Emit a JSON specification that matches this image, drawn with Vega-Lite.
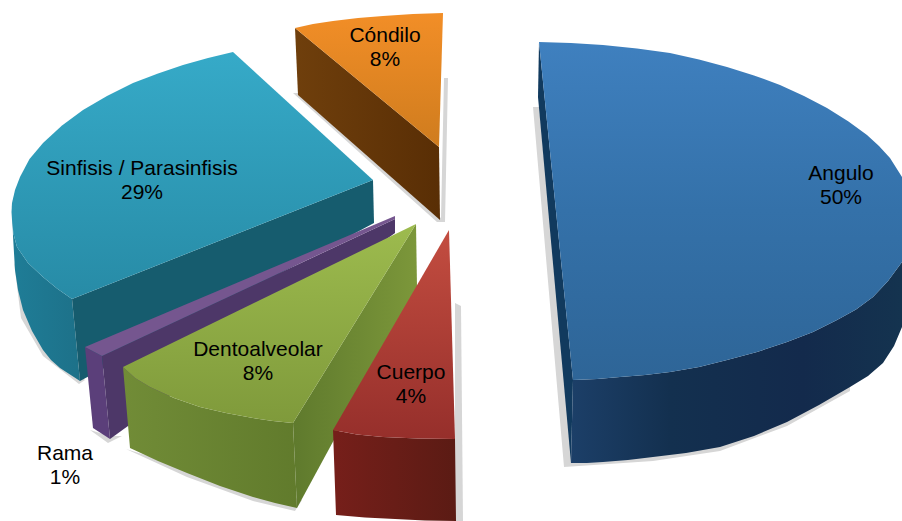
{
  "$schema": "https://vega.github.io/schema/vega-lite/v6.json",
  "width": 902,
  "height": 521,
  "padding": 0,
  "autosize": {"type": "fit", "contains": "padding"},
  "background": "white",
  "view": {"stroke": null},
  "datasets": {
    "faces": [
      {"face":"shadow-blue","p":0,"x":533,"y":107},{"face":"shadow-blue","p":1,"x":539,"y":107},{"face":"shadow-blue","p":2,"x":573,"y":460},{"face":"shadow-blue","p":3,"x":653,"y":455},{"face":"shadow-blue","p":4,"x":720,"y":445},{"face":"shadow-blue","p":5,"x":787,"y":420},{"face":"shadow-blue","p":6,"x":850,"y":385},{"face":"shadow-blue","p":7,"x":850,"y":391},{"face":"shadow-blue","p":8,"x":787,"y":426},{"face":"shadow-blue","p":9,"x":720,"y":451},{"face":"shadow-blue","p":10,"x":653,"y":461},{"face":"shadow-blue","p":11,"x":564,"y":467},
      {"face":"shadow-orange","p":0,"x":293,"y":93},{"face":"shadow-orange","p":1,"x":298,"y":93},{"face":"shadow-orange","p":2,"x":441,"y":218},{"face":"shadow-orange","p":3,"x":444,"y":78},{"face":"shadow-orange","p":4,"x":448,"y":78},{"face":"shadow-orange","p":5,"x":445,"y":222},{"face":"shadow-orange","p":6,"x":437,"y":222},
      {"face":"shadow-teal","p":0,"x":14,"y":262},{"face":"shadow-teal","p":1,"x":21,"y":318},{"face":"shadow-teal","p":2,"x":43,"y":356},{"face":"shadow-teal","p":3,"x":79,"y":384},{"face":"shadow-teal","p":4,"x":85,"y":380},{"face":"shadow-teal","p":5,"x":45,"y":345},
      {"face":"shadow-purple","p":0,"x":90,"y":430},{"face":"shadow-purple","p":1,"x":108,"y":443},{"face":"shadow-purple","p":2,"x":122,"y":436},{"face":"shadow-purple","p":3,"x":110,"y":436},
      {"face":"shadow-green","p":0,"x":126,"y":449},{"face":"shadow-green","p":1,"x":187,"y":477},{"face":"shadow-green","p":2,"x":253,"y":501},{"face":"shadow-green","p":3,"x":295,"y":511},{"face":"shadow-green","p":4,"x":302,"y":500},{"face":"shadow-green","p":5,"x":187,"y":468},
      {"face":"shadow-red","p":0,"x":455,"y":303},{"face":"shadow-red","p":1,"x":461,"y":306},{"face":"shadow-red","p":2,"x":463,"y":521},{"face":"shadow-red","p":3,"x":455,"y":521},

      {"face":"teal-outer","p":0,"x":12,"y":203},{"face":"teal-outer","p":1,"x":13.5,"y":234},{"face":"teal-outer","p":2,"x":17,"y":247},{"face":"teal-outer","p":3,"x":28,"y":263},{"face":"teal-outer","p":4,"x":43,"y":277},{"face":"teal-outer","p":5,"x":57,"y":288.5},{"face":"teal-outer","p":6,"x":72,"y":299},{"face":"teal-outer","p":7,"x":80,"y":381},{"face":"teal-outer","p":8,"x":60,"y":368},{"face":"teal-outer","p":9,"x":51,"y":360},{"face":"teal-outer","p":10,"x":43,"y":350},{"face":"teal-outer","p":11,"x":32,"y":331},{"face":"teal-outer","p":12,"x":23,"y":310},{"face":"teal-outer","p":13,"x":18,"y":290},{"face":"teal-outer","p":14,"x":15,"y":270},{"face":"teal-outer","p":15,"x":13,"y":236},
      {"face":"teal-inner","p":0,"x":72,"y":299},{"face":"teal-inner","p":1,"x":373,"y":180},{"face":"teal-inner","p":2,"x":374,"y":223},{"face":"teal-inner","p":3,"x":80,"y":381},
      {"face":"teal-top","p":0,"x":233,"y":52},{"face":"teal-top","p":1,"x":208,"y":58},{"face":"teal-top","p":2,"x":183,"y":65},{"face":"teal-top","p":3,"x":158,"y":73.5},{"face":"teal-top","p":4,"x":133,"y":83},{"face":"teal-top","p":5,"x":107,"y":96},{"face":"teal-top","p":6,"x":83,"y":110},{"face":"teal-top","p":7,"x":62,"y":125.5},{"face":"teal-top","p":8,"x":43,"y":143},{"face":"teal-top","p":9,"x":29.5,"y":159},{"face":"teal-top","p":10,"x":20,"y":177},{"face":"teal-top","p":11,"x":15,"y":190},{"face":"teal-top","p":12,"x":12,"y":203},{"face":"teal-top","p":13,"x":11.5,"y":212},{"face":"teal-top","p":14,"x":12,"y":220},{"face":"teal-top","p":15,"x":13.5,"y":234},{"face":"teal-top","p":16,"x":17,"y":247},{"face":"teal-top","p":17,"x":28,"y":263},{"face":"teal-top","p":18,"x":43,"y":277},{"face":"teal-top","p":19,"x":57,"y":288.5},{"face":"teal-top","p":20,"x":72,"y":299},{"face":"teal-top","p":21,"x":373,"y":180},

      {"face":"orange-side","p":0,"x":295,"y":28},{"face":"orange-side","p":1,"x":439,"y":147},{"face":"orange-side","p":2,"x":440,"y":220},{"face":"orange-side","p":3,"x":298,"y":95},
      {"face":"orange-top","p":0,"x":295,"y":28},{"face":"orange-top","p":1,"x":313,"y":24},{"face":"orange-top","p":2,"x":333,"y":21},{"face":"orange-top","p":3,"x":358,"y":18},{"face":"orange-top","p":4,"x":383,"y":16},{"face":"orange-top","p":5,"x":413,"y":14},{"face":"orange-top","p":6,"x":443,"y":13},{"face":"orange-top","p":7,"x":439,"y":147},

      {"face":"purple-left","p":0,"x":85,"y":347},{"face":"purple-left","p":1,"x":102,"y":356},{"face":"purple-left","p":2,"x":110,"y":439},{"face":"purple-left","p":3,"x":93,"y":428},
      {"face":"purple-inner","p":0,"x":102,"y":356},{"face":"purple-inner","p":1,"x":395,"y":219},{"face":"purple-inner","p":2,"x":395,"y":233},{"face":"purple-inner","p":3,"x":110,"y":439},
      {"face":"purple-top","p":0,"x":85,"y":347},{"face":"purple-top","p":1,"x":395,"y":216},{"face":"purple-top","p":2,"x":395,"y":219},{"face":"purple-top","p":3,"x":102,"y":356},

      {"face":"green-inner","p":0,"x":293,"y":423},{"face":"green-inner","p":1,"x":416,"y":224},{"face":"green-inner","p":2,"x":417,"y":287},{"face":"green-inner","p":3,"x":297,"y":508},
      {"face":"green-outer","p":0,"x":123,"y":367},{"face":"green-outer","p":1,"x":135,"y":378},{"face":"green-outer","p":2,"x":150,"y":387},{"face":"green-outer","p":3,"x":174,"y":398},{"face":"green-outer","p":4,"x":200,"y":407},{"face":"green-outer","p":5,"x":226,"y":413},{"face":"green-outer","p":6,"x":253,"y":418},{"face":"green-outer","p":7,"x":273,"y":421},{"face":"green-outer","p":8,"x":293,"y":423},{"face":"green-outer","p":9,"x":297,"y":508},{"face":"green-outer","p":10,"x":275,"y":503},{"face":"green-outer","p":11,"x":253,"y":497},{"face":"green-outer","p":12,"x":220,"y":486},{"face":"green-outer","p":13,"x":187,"y":473},{"face":"green-outer","p":14,"x":158,"y":461},{"face":"green-outer","p":15,"x":130,"y":448},
      {"face":"green-top","p":0,"x":416,"y":224},{"face":"green-top","p":1,"x":123,"y":367},{"face":"green-top","p":2,"x":135,"y":378},{"face":"green-top","p":3,"x":150,"y":387},{"face":"green-top","p":4,"x":174,"y":398},{"face":"green-top","p":5,"x":200,"y":407},{"face":"green-top","p":6,"x":226,"y":413},{"face":"green-top","p":7,"x":253,"y":418},{"face":"green-top","p":8,"x":273,"y":421},{"face":"green-top","p":9,"x":293,"y":423},

      {"face":"red-side","p":0,"x":333,"y":430},{"face":"red-side","p":1,"x":357,"y":434.5},{"face":"red-side","p":2,"x":383,"y":437},{"face":"red-side","p":3,"x":418,"y":438.5},{"face":"red-side","p":4,"x":455,"y":439},{"face":"red-side","p":5,"x":456,"y":521},{"face":"red-side","p":6,"x":425,"y":520.5},{"face":"red-side","p":7,"x":395,"y":519},{"face":"red-side","p":8,"x":365,"y":517.5},{"face":"red-side","p":9,"x":336,"y":515},
      {"face":"red-top","p":0,"x":449,"y":230},{"face":"red-top","p":1,"x":333,"y":430},{"face":"red-top","p":2,"x":357,"y":434.5},{"face":"red-top","p":3,"x":383,"y":437},{"face":"red-top","p":4,"x":418,"y":438.5},{"face":"red-top","p":5,"x":455,"y":439},

      {"face":"blue-left","p":0,"x":539,"y":42},{"face":"blue-left","p":1,"x":538,"y":97},{"face":"blue-left","p":2,"x":571,"y":463},{"face":"blue-left","p":3,"x":573,"y":380},
      {"face":"blue-front","p":0,"x":573,"y":380},{"face":"blue-front","p":1,"x":597,"y":379},{"face":"blue-front","p":2,"x":620,"y":377},{"face":"blue-front","p":3,"x":645,"y":375},{"face":"blue-front","p":4,"x":670,"y":372},{"face":"blue-front","p":5,"x":699,"y":367},{"face":"blue-front","p":6,"x":727,"y":360},{"face":"blue-front","p":7,"x":757,"y":352},{"face":"blue-front","p":8,"x":787,"y":342},{"face":"blue-front","p":9,"x":813,"y":332},{"face":"blue-front","p":10,"x":837,"y":320},{"face":"blue-front","p":11,"x":856,"y":309.5},{"face":"blue-front","p":12,"x":873,"y":297},{"face":"blue-front","p":13,"x":888,"y":281},{"face":"blue-front","p":14,"x":902,"y":262},{"face":"blue-front","p":15,"x":902,"y":327},{"face":"blue-front","p":16,"x":894,"y":346},{"face":"blue-front","p":17,"x":883,"y":363},{"face":"blue-front","p":18,"x":868,"y":376},{"face":"blue-front","p":19,"x":850,"y":387},{"face":"blue-front","p":20,"x":819,"y":405},{"face":"blue-front","p":21,"x":787,"y":422},{"face":"blue-front","p":22,"x":754,"y":436},{"face":"blue-front","p":23,"x":720,"y":447},{"face":"blue-front","p":24,"x":686,"y":453},{"face":"blue-front","p":25,"x":653,"y":457},{"face":"blue-front","p":26,"x":628,"y":460},{"face":"blue-front","p":27,"x":603,"y":462},{"face":"blue-front","p":28,"x":587,"y":463},{"face":"blue-front","p":29,"x":571,"y":463},
      {"face":"blue-top","p":0,"x":539,"y":42},{"face":"blue-top","p":1,"x":571,"y":43},{"face":"blue-top","p":2,"x":603,"y":45},{"face":"blue-top","p":3,"x":637,"y":48.5},{"face":"blue-top","p":4,"x":670,"y":53},{"face":"blue-top","p":5,"x":699,"y":59.4},{"face":"blue-top","p":6,"x":727,"y":67},{"face":"blue-top","p":7,"x":754,"y":75.4},{"face":"blue-top","p":8,"x":780,"y":85},{"face":"blue-top","p":9,"x":804,"y":96},{"face":"blue-top","p":10,"x":827,"y":108},{"face":"blue-top","p":11,"x":848.5,"y":121.5},{"face":"blue-top","p":12,"x":867,"y":135},{"face":"blue-top","p":13,"x":879,"y":146},{"face":"blue-top","p":14,"x":890,"y":158},{"face":"blue-top","p":15,"x":902,"y":177},{"face":"blue-top","p":16,"x":902,"y":262},{"face":"blue-top","p":17,"x":888,"y":281},{"face":"blue-top","p":18,"x":873,"y":297},{"face":"blue-top","p":19,"x":856,"y":309.5},{"face":"blue-top","p":20,"x":837,"y":320},{"face":"blue-top","p":21,"x":813,"y":332},{"face":"blue-top","p":22,"x":787,"y":342},{"face":"blue-top","p":23,"x":757,"y":352},{"face":"blue-top","p":24,"x":727,"y":360},{"face":"blue-top","p":25,"x":699,"y":367},{"face":"blue-top","p":26,"x":670,"y":372},{"face":"blue-top","p":27,"x":645,"y":375},{"face":"blue-top","p":28,"x":620,"y":377},{"face":"blue-top","p":29,"x":597,"y":379},{"face":"blue-top","p":30,"x":573,"y":380}
    ],
    "slices": [
      {"slice":"Angulo","value":50,"x":841,"y":180},
      {"slice":"Cóndilo","value":8,"x":385,"y":42},
      {"slice":"Sinfisis / Parasinfisis","value":29,"x":142,"y":175},
      {"slice":"Rama","value":1,"x":65,"y":460},
      {"slice":"Dentoalveolar","value":8,"x":258,"y":356},
      {"slice":"Cuerpo","value":4,"x":411,"y":379}
    ]
  },
  "encoding": {
    "x": {"field": "x", "type": "quantitative", "scale": {"domain": [0, 902], "nice": false, "zero": false}, "axis": null},
    "y": {"field": "y", "type": "quantitative", "scale": {"domain": [521, 0], "nice": false, "zero": false}, "axis": null}
  },
  "layer": [
    {"data":{"name":"faces"},"transform":[{"filter":"indexof(datum.face,'shadow')===0"}],"mark":{"type":"line","strokeWidth":0,"fill":"#d6d6d6"},"encoding":{"order":{"field":"p","type":"quantitative"},"detail":{"field":"face","type":"nominal"}}},
    {"data":{"name":"faces"},"transform":[{"filter":"datum.face==='teal-outer'"}],"mark":{"type":"line","strokeWidth":0,"fill":{"gradient":"linear","x1":0,"x2":1,"y1":0,"y2":0,"stops":[{"offset":0,"color":"#1f7d97"},{"offset":1,"color":"#1d7189"}]}},"encoding":{"order":{"field":"p","type":"quantitative"}}},
    {"data":{"name":"faces"},"transform":[{"filter":"datum.face==='teal-inner'"}],"mark":{"type":"line","strokeWidth":0,"fill":"#165c6e"},"encoding":{"order":{"field":"p","type":"quantitative"}}},
    {"data":{"name":"faces"},"transform":[{"filter":"datum.face==='teal-top'"}],"mark":{"type":"line","strokeWidth":0,"fill":{"gradient":"linear","x1":0,"x2":0,"y1":0,"y2":1,"stops":[{"offset":0,"color":"#36aac8"},{"offset":1,"color":"#278ba6"}]}},"encoding":{"order":{"field":"p","type":"quantitative"}}},
    {"data":{"name":"faces"},"transform":[{"filter":"datum.face==='orange-side'"}],"mark":{"type":"line","strokeWidth":0,"fill":{"gradient":"linear","x1":0,"x2":1,"y1":0,"y2":0,"stops":[{"offset":0,"color":"#6f3f0c"},{"offset":1,"color":"#592e05"}]}},"encoding":{"order":{"field":"p","type":"quantitative"}}},
    {"data":{"name":"faces"},"transform":[{"filter":"datum.face==='orange-top'"}],"mark":{"type":"line","strokeWidth":0,"fill":{"gradient":"linear","x1":0,"x2":0,"y1":0,"y2":1,"stops":[{"offset":0,"color":"#f28e27"},{"offset":1,"color":"#cf7c1e"}]}},"encoding":{"order":{"field":"p","type":"quantitative"}}},
    {"data":{"name":"faces"},"transform":[{"filter":"datum.face==='purple-left'"}],"mark":{"type":"line","strokeWidth":0,"fill":"#5b3f7a"},"encoding":{"order":{"field":"p","type":"quantitative"}}},
    {"data":{"name":"faces"},"transform":[{"filter":"datum.face==='purple-inner'"}],"mark":{"type":"line","strokeWidth":0,"fill":"#4d3768"},"encoding":{"order":{"field":"p","type":"quantitative"}}},
    {"data":{"name":"faces"},"transform":[{"filter":"datum.face==='purple-top'"}],"mark":{"type":"line","strokeWidth":0,"fill":"#75568f"},"encoding":{"order":{"field":"p","type":"quantitative"}}},
    {"data":{"name":"faces"},"transform":[{"filter":"datum.face==='green-inner'"}],"mark":{"type":"line","strokeWidth":0,"fill":{"gradient":"linear","x1":0,"x2":1,"y1":0,"y2":0,"stops":[{"offset":0,"color":"#5f7a2d"},{"offset":1,"color":"#7c973a"}]}},"encoding":{"order":{"field":"p","type":"quantitative"}}},
    {"data":{"name":"faces"},"transform":[{"filter":"datum.face==='green-outer'"}],"mark":{"type":"line","strokeWidth":0,"fill":{"gradient":"linear","x1":0,"x2":1,"y1":0,"y2":0,"stops":[{"offset":0,"color":"#718c37"},{"offset":1,"color":"#617b2c"}]}},"encoding":{"order":{"field":"p","type":"quantitative"}}},
    {"data":{"name":"faces"},"transform":[{"filter":"datum.face==='green-top'"}],"mark":{"type":"line","strokeWidth":0,"fill":{"gradient":"linear","x1":0,"x2":0,"y1":0,"y2":1,"stops":[{"offset":0,"color":"#9dbb4e"},{"offset":1,"color":"#7f9a3b"}]}},"encoding":{"order":{"field":"p","type":"quantitative"}}},
    {"data":{"name":"faces"},"transform":[{"filter":"datum.face==='red-side'"}],"mark":{"type":"line","strokeWidth":0,"fill":{"gradient":"linear","x1":0,"x2":1,"y1":0,"y2":0,"stops":[{"offset":0,"color":"#761f1a"},{"offset":1,"color":"#5b1b14"}]}},"encoding":{"order":{"field":"p","type":"quantitative"}}},
    {"data":{"name":"faces"},"transform":[{"filter":"datum.face==='red-top'"}],"mark":{"type":"line","strokeWidth":0,"fill":{"gradient":"linear","x1":0,"x2":0,"y1":0,"y2":1,"stops":[{"offset":0,"color":"#c34d40"},{"offset":1,"color":"#962f2b"}]}},"encoding":{"order":{"field":"p","type":"quantitative"}}},
    {"data":{"name":"faces"},"transform":[{"filter":"datum.face==='blue-left'"}],"mark":{"type":"line","strokeWidth":0,"fill":"#113a5e"},"encoding":{"order":{"field":"p","type":"quantitative"}}},
    {"data":{"name":"faces"},"transform":[{"filter":"datum.face==='blue-front'"}],"mark":{"type":"line","strokeWidth":0,"fill":{"gradient":"linear","x1":0,"x2":1,"y1":0,"y2":0,"stops":[{"offset":0,"color":"#1c3f68"},{"offset":0.3,"color":"#13304f"},{"offset":0.7,"color":"#132a4c"},{"offset":1,"color":"#14334f"}]}},"encoding":{"order":{"field":"p","type":"quantitative"}}},
    {"data":{"name":"faces"},"transform":[{"filter":"datum.face==='blue-top'"}],"mark":{"type":"line","strokeWidth":0,"fill":{"gradient":"linear","x1":0,"x2":0,"y1":0,"y2":1,"stops":[{"offset":0,"color":"#3f80bf"},{"offset":0.5,"color":"#3471a9"},{"offset":1,"color":"#2e6597"}]}},"encoding":{"order":{"field":"p","type":"quantitative"}}},
    {
      "data": {"name": "slices"},
      "transform": [{"calculate": "datum.slice + '\\n' + datum.value + '%'", "as": "caption"}],
      "mark": {"type": "text", "font": "Liberation Sans", "fontSize": 21, "lineHeight": 24, "lineBreak": "\n", "align": "center", "baseline": "alphabetic", "color": "#000000"},
      "encoding": {"text": {"field": "caption", "type": "nominal"}}
    }
  ]
}
